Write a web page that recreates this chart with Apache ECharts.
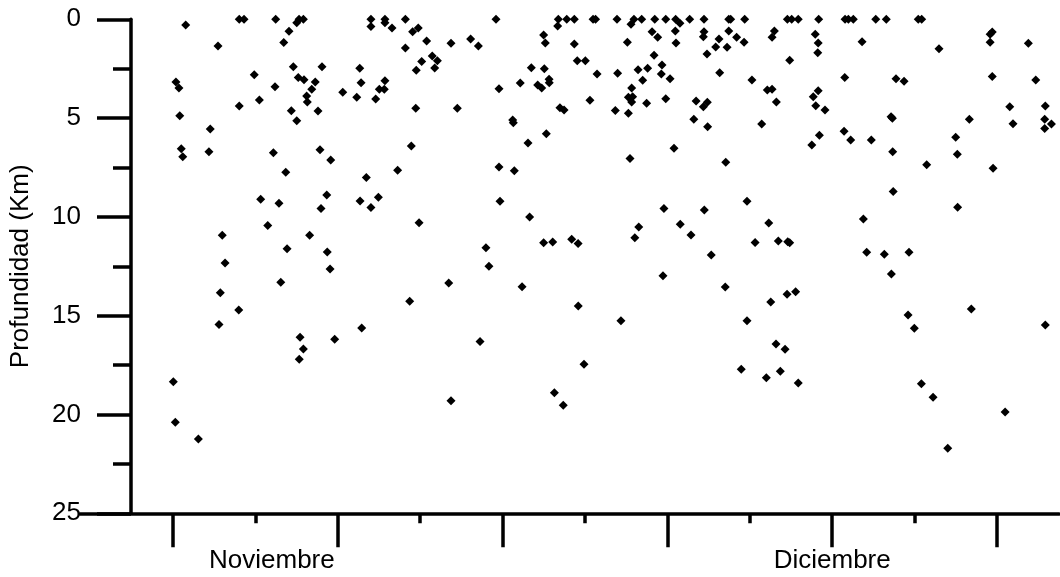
<!DOCTYPE html>
<html>
<head>
<meta charset="utf-8">
<script src="https://cdn.jsdelivr.net/npm/echarts@6/dist/echarts.min.js"></script>
<style>
  html, body { margin: 0; padding: 0; background: #fff; }
  #chart { width: 1060px; height: 577px; }
</style>
</head>
<body>
<div id="chart"></div>
<script>
// Día de cada sismo (1 = 1 de noviembre) y su profundidad en km
const dia = [
  1.77, 3.73, 5.02, 5.31, 7.23, 8.51, 8.65, 8.91, 8.04, 7.72,
  13.01, 13.01, 13.86, 13.86, 14.29, 15.10, 15.54, 15.88, 16.39, 17.87,
  15.10, 16.73, 17.04, 16.09, 15.76, 16.88, 1.18, 1.36, 5.93, 8.30,
  10.04, 12.33, 8.60, 8.95, 9.63, 9.42, 9.11, 9.15, 7.19, 6.24,
  5.02, 8.18, 8.51, 9.80, 11.30, 12.41, 12.15, 13.30, 13.86, 13.52,
  13.82, 15.73, 1.41, 3.26, 1.50, 1.59, 3.18, 7.09, 9.92, 10.57,
  7.84, 12.73, 14.63, 15.46, 6.32, 7.43, 10.33, 9.98, 12.35, 13.46,
  13.01, 15.93, 6.75, 3.99, 9.29, 7.92, 10.36, 4.16, 10.53, 7.54,
  3.87, 4.99, 15.36, 3.79, 8.71, 8.91, 8.66, 10.81, 12.45, 1.02,
  1.14, 2.54,
  20.60, 24.38, 24.89, 25.35, 26.49, 26.64, 27.94, 28.97, 29.44, 30.23,
  30.90, 31.50, 32.35, 33.22, 34.72, 34.84, 35.69, 24.34, 28.79, 31.76,
  23.49, 23.59, 25.35, 28.57, 30.07, 30.41, 31.48, 31.52, 33.22, 33.18,
  34.72, 34.13, 35.20, 35.65, 33.93, 34.62, 33.40, 30.19, 19.06, 19.53,
  25.53, 26.02, 22.74, 23.53, 26.73, 27.98, 29.22, 29.80, 30.67, 30.63,
  31.16, 29.50, 34.17, 36.13, 20.78, 22.07, 23.13, 23.37, 23.82, 23.83,
  28.83, 28.63, 28.89, 28.83, 29.74, 30.90, 32.74, 33.42, 33.18, 26.30,
  18.25, 24.48, 24.73, 27.84, 28.63, 21.61, 21.65, 32.60, 33.44, 23.65,
  22.54, 31.40, 28.73, 34.54, 20.78, 21.71, 20.84, 22.64, 19.99, 20.17,
  17.73, 23.49, 24.04, 25.19, 25.58, 22.18, 25.59, 28.18, 19.63, 25.94,
  17.87, 24.14, 24.68, 29.02, 29.26, 30.79, 31.78, 32.43, 33.24, 30.73,
  33.66, 34.51, 35.83, 35.83, 35.48,
  38.28, 38.54, 38.94, 40.18, 41.78, 41.98, 42.28, 43.64, 44.28, 46.22,
  46.43, 37.49, 37.35, 39.97, 40.15, 40.12, 38.42, 42.81, 47.48, 50.58,
  50.71, 50.58, 52.90, 37.06, 37.35, 37.61, 36.72, 40.15, 39.85, 40.00,
  40.56, 41.76, 44.87, 45.36, 44.57, 44.65, 41.72, 42.12, 40.22, 39.76,
  43.37, 44.67, 48.49, 48.59, 49.32, 46.73, 50.71, 53.35, 51.77, 53.93,
  51.97, 53.89, 54.30, 53.89, 50.76, 44.70, 48.61, 37.15, 36.32, 37.73,
  38.30, 38.42, 42.89, 43.09, 44.16, 45.66, 44.59, 37.27, 38.26, 38.78,
  45.60, 45.98, 49.44, 53.93, 37.59, 38.14, 37.00, 37.85, 38.94, 46.41,
  47.12, 51.49, 48.01
];
const prof = [
  0.29, 1.35, 0, 0, 0, 0.17, 0, 0, 0.61, 1.18,
  0, 0.37, 0, 0.17, 0.44, 0, 0.63, 0.44, 1.10, 1.21,
  1.45, 1.86, 2.10, 2.13, 2.58, 2.46, 3.17, 3.48, 2.80, 2.40,
  2.40, 2.48, 2.94, 3.06, 3.17, 3.54, 3.88, 4.19, 3.41, 4.08,
  4.39, 4.63, 5.13, 4.64, 3.69, 3.21, 3.95, 4.03, 3.11, 3.54,
  3.54, 4.50, 4.88, 5.55, 6.55, 6.95, 6.70, 6.75, 6.60, 7.12,
  7.74, 8.00, 7.64, 6.41, 9.11, 9.31, 8.89, 9.58, 9.20, 9.01,
  9.53, 10.29, 10.43, 10.93, 10.93, 11.61, 11.78, 12.33, 12.64, 13.31,
  13.84, 14.71, 14.27, 15.44, 16.09, 16.69, 17.21, 16.19, 15.62, 18.34,
  20.39, 21.24,
  0, 0, 0, 0, 0, 0, 0, 0, 0, 0,
  0, 0, 0, 0, 0, 0, 0, 0.34, 0.25, 0.20,
  0.79, 1.20, 1.25, 1.16, 0.63, 0.91, 0.59, 1.20, 0.63, 0.88,
  0.59, 1.00, 0.91, 1.16, 1.40, 1.42, 1.76, 1.82, 1.00, 1.35,
  2.10, 2.10, 2.45, 2.50, 2.77, 2.73, 2.55, 2.48, 2.31, 2.77,
  3.01, 3.09, 2.70, 3.07, 3.51, 3.22, 3.32, 3.48, 3.04, 3.21,
  3.48, 3.95, 3.92, 4.19, 4.25, 4.02, 4.13, 4.20, 4.42, 4.10,
  4.50, 4.47, 4.59, 4.61, 4.76, 5.10, 5.23, 5.06, 5.44, 5.79,
  6.26, 6.53, 7.05, 7.24, 7.47, 7.66, 9.21, 10.01, 11.56, 12.50,
  13.35, 11.31, 11.27, 11.13, 11.34, 13.53, 14.51, 15.25, 16.30, 17.46,
  19.30, 18.90, 19.53, 11.05, 10.51, 9.58, 10.37, 10.92, 9.65, 12.98,
  11.93, 13.55, 9.21, 15.25, 17.71,
  0, 0, 0, 0, 0, 0, 0, 0, 0, 0,
  0, 0.59, 0.91, 0.76, 1.20, 1.69, 2.07, 1.13, 1.49, 0.76,
  0.64, 1.16, 1.21, 3.58, 3.54, 4.19, 5.30, 3.61, 3.92, 4.37,
  4.59, 2.94, 3.01, 3.14, 4.93, 5.01, 5.67, 6.11, 5.87, 6.36,
  6.11, 6.70, 5.97, 6.83, 5.06, 7.36, 2.90, 3.07, 4.42, 4.39,
  5.28, 5.06, 5.30, 5.52, 7.54, 8.72, 9.51, 10.31, 11.29, 11.22,
  11.26, 11.31, 10.11, 11.79, 11.89, 11.79, 12.89, 14.31, 13.92, 13.79,
  14.96, 15.64, 14.66, 15.47, 16.43, 16.70, 18.14, 17.81, 18.41, 18.44,
  19.13, 19.87, 21.71
];

// Marcas del eje temporal
const diasMayores = [1, 11, 21, 31, 41, 51];
const diasMenores = [6, 16, 26, 36, 46];
const mesDia = [7, 41];
const mesNombre = ['Noviembre', 'Diciembre'];

// Extremos de los ejes
const diaMin = -4.643;
const diaMax = 54.76;
const profMin = 0;
const profMax = 25;
const profPaso = 5;

const puntos = dia.map((d, i) => [d, prof[i]]);

const negro = '#000';
const fuente = 'Liberation Sans, Arial, sans-serif';
const trazo = { color: negro, width: 3.5 };

const chart = echarts.init(document.getElementById('chart'), null, { renderer: 'canvas' });
chart.setOption({
  animation: false,
  backgroundColor: '#fff',
  grid: {
    left: 80, right: 1, top: 19.3, bottom: 63.7,
    containLabel: false, outerBoundsMode: 'none', show: false
  },
  xAxis: [
    {
      type: 'value', min: diaMin, max: diaMax, position: 'bottom',
      axisLine: { show: true, onZero: false, lineStyle: trazo },
      axisTick: { show: true, customValues: diasMayores, length: 34, lineStyle: trazo },
      axisLabel: {
        show: true, customValues: mesDia, margin: 35,
        formatter: v => {
          const k = mesDia.indexOf(v);
          return k >= 0 ? mesNombre[k] : '';
        },
        color: negro, fontSize: 26, fontFamily: fuente
      },
      splitLine: { show: false }
    },
    {
      type: 'value', min: diaMin, max: diaMax, position: 'bottom',
      axisLine: { show: false, onZero: false },
      axisTick: { show: true, customValues: diasMenores, length: 10, lineStyle: trazo },
      axisLabel: { show: false },
      splitLine: { show: false }
    }
  ],
  yAxis: {
    type: 'value', inverse: true, min: profMin, max: profMax, interval: profPaso,
    position: 'left', offset: -51,
    name: 'Profundidad (Km)', nameLocation: 'middle', nameGap: 97,
    nameTextStyle: { color: negro, fontSize: 26, fontFamily: fuente },
    axisLine: { show: true, onZero: false, lineStyle: trazo },
    axisTick: { show: true, length: 34, lineStyle: trazo },
    minorTick: { show: true, splitNumber: 2, length: 18, lineStyle: trazo },
    axisLabel: { color: negro, fontSize: 26, fontFamily: fuente, margin: 50 },
    splitLine: { show: false },
    minorSplitLine: { show: false }
  },
  series: [{
    type: 'scatter',
    xAxisIndex: 0,
    symbol: 'diamond',
    symbolSize: 9,
    itemStyle: { color: negro, opacity: 1 },
    silent: true,
    data: puntos
  }]
});
</script>
</body>
</html>
